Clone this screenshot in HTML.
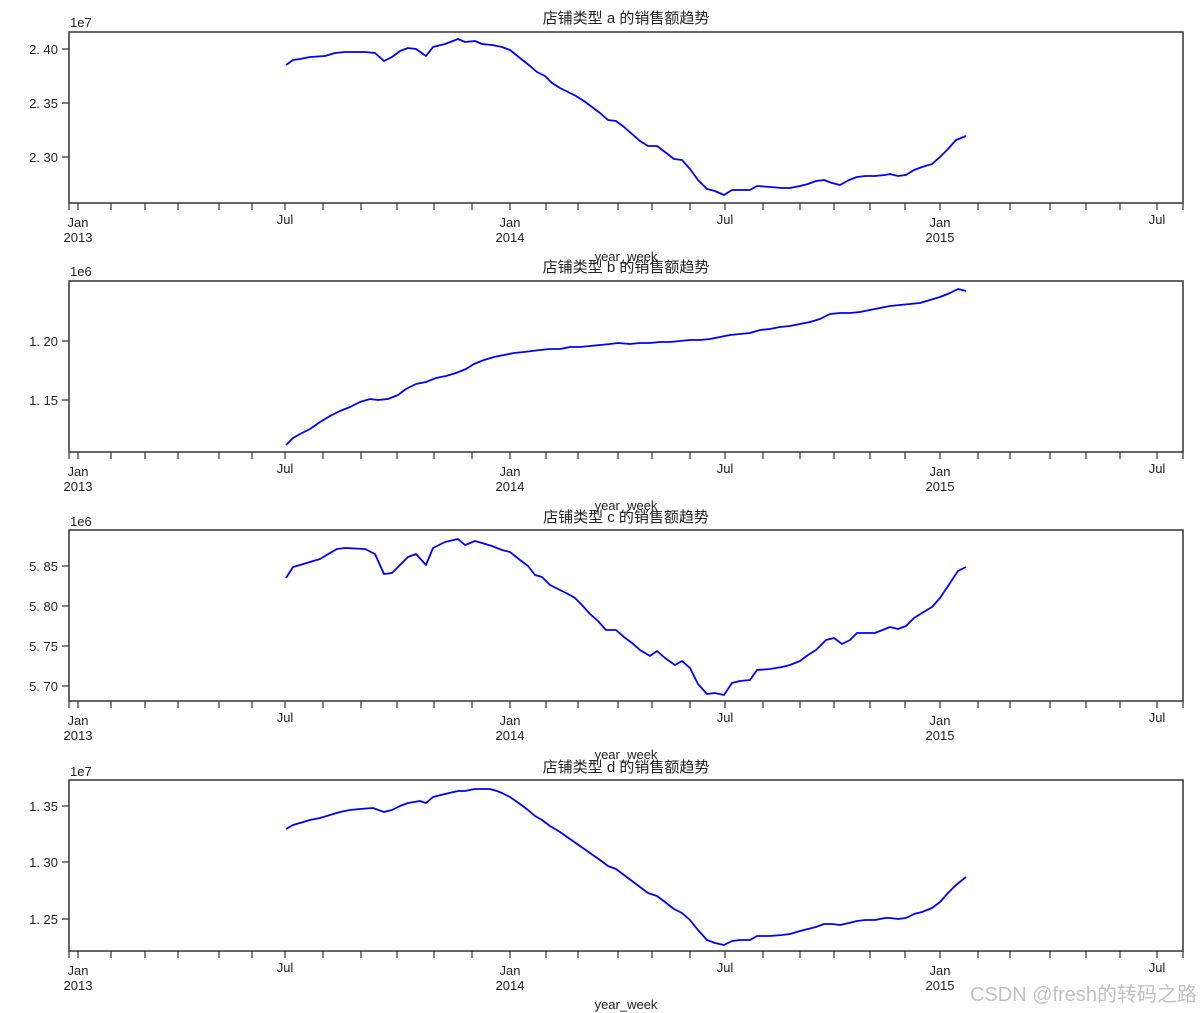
<!DOCTYPE html>
<html><head><meta charset="utf-8"><style>
body{margin:0;background:#fff}
svg{display:block;font-family:"Liberation Sans","Noto Sans CJK SC",sans-serif}
</style></head><body>
<svg width="1200" height="1013" viewBox="0 0 1200 1013" xmlns="http://www.w3.org/2000/svg">
<defs>
<g id="ax">
<rect x="69" y="32" width="1114" height="171" fill="none" stroke="#333" stroke-width="1.5"/>
<path stroke="#333" stroke-width="1.2" d="M69 203v7M78 203v7M111 203v7M145 203v7M178 203v7M219 203v7M252 203v7M285 203v7M323 203v7M361 203v7M397 203v7M434 203v7M472 203v7M510 203v7M546 203v7M578 203v7M618 203v7M652 203v7M690 203v7M725 203v7M763 203v7M800 203v7M834 203v7M870 203v7M905 203v7M940 203v7M978 203v7M1010 203v7M1050 203v7M1086 203v7M1120 203v7M1157 203v7M1183 203v7"/>
</g>
</defs>
<use href="#ax"/>
<use href="#ax" y="249"/>
<use href="#ax" y="498"/>
<use href="#ax" y="748"/>
<g font-size="13" fill="#222" text-anchor="middle">
<g><text x="78" y="227">Jan</text><text x="78" y="242">2013</text><text x="285" y="224">Jul</text><text x="510" y="227">Jan</text><text x="510" y="242">2014</text><text x="725" y="224">Jul</text><text x="940" y="227">Jan</text><text x="940" y="242">2015</text><text x="1157" y="224">Jul</text><text x="626" y="261">year_week</text></g>
<g transform="translate(0,249)"><text x="78" y="227">Jan</text><text x="78" y="242">2013</text><text x="285" y="224">Jul</text><text x="510" y="227">Jan</text><text x="510" y="242">2014</text><text x="725" y="224">Jul</text><text x="940" y="227">Jan</text><text x="940" y="242">2015</text><text x="1157" y="224">Jul</text><text x="626" y="261">year_week</text></g>
<g transform="translate(0,498)"><text x="78" y="227">Jan</text><text x="78" y="242">2013</text><text x="285" y="224">Jul</text><text x="510" y="227">Jan</text><text x="510" y="242">2014</text><text x="725" y="224">Jul</text><text x="940" y="227">Jan</text><text x="940" y="242">2015</text><text x="1157" y="224">Jul</text><text x="626" y="261">year_week</text></g>
<g transform="translate(0,748)"><text x="78" y="227">Jan</text><text x="78" y="242">2013</text><text x="285" y="224">Jul</text><text x="510" y="227">Jan</text><text x="510" y="242">2014</text><text x="725" y="224">Jul</text><text x="940" y="227">Jan</text><text x="940" y="242">2015</text><text x="1157" y="224">Jul</text><text x="626" y="261">year_week</text></g>
<g font-size="15">
<text x="626" y="23">店铺类型 a 的销售额趋势</text>
<text x="626" y="272">店铺类型 b 的销售额趋势</text>
<text x="626" y="522">店铺类型 c 的销售额趋势</text>
<text x="626" y="772">店铺类型 d 的销售额趋势</text>
</g>
</g>
<g font-size="13" fill="#222" text-anchor="end">
<text x="58" y="54">2. 40</text><text x="58" y="108">2. 35</text><text x="58" y="162">2. 30</text>
<text x="58" y="346">1. 20</text><text x="58" y="405">1. 15</text>
<text x="58" y="571">5. 85</text><text x="58" y="611">5. 80</text><text x="58" y="651">5. 75</text><text x="58" y="691">5. 70</text>
<text x="58" y="811">1. 35</text><text x="58" y="867">1. 30</text><text x="58" y="924">1. 25</text>
</g>
<path stroke="#333" stroke-width="1.2" d="M62 49h7M62 103h7M62 157h7M62 341h7M62 400h7M62 566h7M62 606h7M62 646h7M62 686h7M62 806h7M62 862h7M62 919h7"/>
<g font-size="13" fill="#222">
<text x="70" y="27">1e7</text><text x="70" y="276">1e6</text><text x="70" y="526">1e6</text><text x="70" y="776">1e7</text>
</g>
<g fill="none" stroke="#0000ff" stroke-width="1.8" stroke-linejoin="round">
<polyline points="286,65 293,60 300,59 310,57 325,56 335,53 345,52 365,52 375,53 384,61 392,57 400,51 408,48 416,49 426,56 433,47 445,44 458,39 465,42 475,41 482,44 492,45 502,47 510,50 520,58 530,66 537,72 545,76 552,83 560,88 568,92 576,96 584,101 592,107 600,113 608,120 616,121 624,127 632,134 640,141 648,146 657,146 665,152 674,159 682,160 690,169 698,180 707,189 715,191 724,195 732,190 740,190 750,190 757,186 770,187 782,188 790,188 800,186 808,184 816,181 824,180 832,183 840,185 849,180 857,177 865,176 875,176 885,175 890,174 898,176 906,175 914,170 922,167 932,164 940,157 948,149 956,140 966,136"/>
<polyline points="286,445 293,438 300,434 310,429 320,422 330,416 340,411 350,407 360,402 370,399 378,400 388,399 398,395 406,389 416,384 426,382 436,378 446,376 456,373 466,369 474,364 484,360 494,357 504,355 514,353 524,352 532,351 540,350 550,349 560,349 570,347 580,347 590,346 600,345 610,344 618,343 630,344 640,343 650,343 660,342 670,342 680,341 690,340 700,340 710,339 720,337 730,335 740,334 750,333 760,330 770,329 780,327 790,326 800,324 810,322 820,319 830,314 840,313 850,313 860,312 870,310 880,308 890,306 900,305 910,304 920,303 930,300 940,297 950,293 958,289 966,291"/>
<polyline points="286,578 293,567 300,565 310,562 320,559 330,553 337,549 345,548 365,549 375,554 384,574 392,573 400,565 408,557 416,554 426,565 433,548 445,542 458,539 465,545 475,541 482,543 492,546 502,550 510,552 520,560 528,566 535,575 542,577 550,585 560,590 568,594 575,598 582,605 590,614 598,621 606,630 616,630 624,637 632,643 640,650 650,656 657,651 665,658 675,665 682,661 690,668 698,684 707,694 715,693 724,695 732,683 740,681 750,680 757,670 770,669 782,667 790,665 800,661 808,655 816,650 822,644 826,640 834,638 842,644 850,640 857,633 865,633 875,633 885,629 890,627 898,629 906,626 914,618 922,613 932,607 940,598 948,586 958,571 966,567"/>
<polyline points="286,829 293,825 300,823 310,820 320,818 330,815 340,812 350,810 360,809 373,808 384,812 392,810 400,806 408,803 420,801 426,803 433,797 445,794 458,791 465,791 475,789 490,789 497,791 502,793 510,797 520,804 528,810 535,816 542,820 550,826 560,832 570,839 580,846 590,853 600,860 608,866 616,869 624,875 632,881 640,887 648,893 657,896 665,902 674,909 682,913 690,920 698,930 707,940 715,943 724,945 732,941 740,940 750,940 757,936 770,936 782,935 790,934 800,931 808,929 816,927 824,924 832,924 840,925 849,923 857,921 865,920 875,920 885,918 890,918 898,919 906,918 914,914 922,912 932,908 940,902 948,893 956,885 966,877"/>
</g>
<text x="1197" y="1001" text-anchor="end" font-size="20" fill="#bbb" opacity="0.9">CSDN @fresh的转码之路</text>
</svg>
</body></html>
